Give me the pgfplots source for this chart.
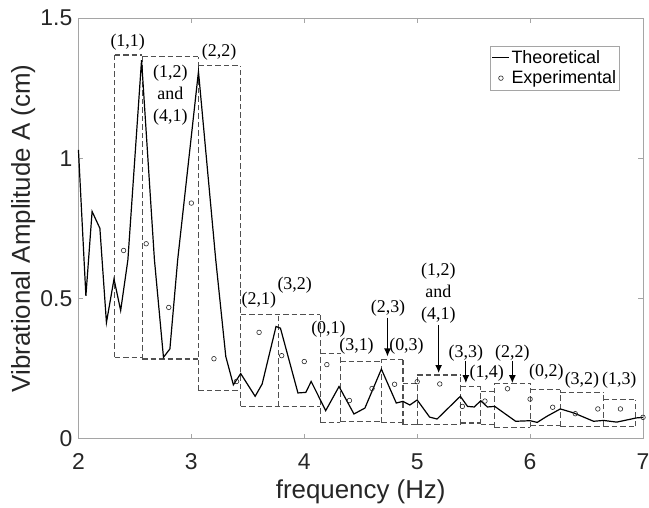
\documentclass[border=0pt]{standalone}
\usepackage{fontspec}
\setmainfont{Liberation Sans}
\newfontfamily\serif{Liberation Serif}
\usepackage{pgfplots}
\pgfplotsset{compat=1.18}
\usetikzlibrary{arrows.meta}
\definecolor{axgray}{RGB}{165,165,165}
\definecolor{txtgray}{RGB}{38,38,38}
\definecolor{boxgray}{RGB}{80,80,80}

\tikzset{
  boxst/.style={boxgray, dash pattern=on 5.5bp off 3bp, line width=1.1bp},
  lab/.style={font=\serif\fontsize{18}{22}\selectfont, inner sep=0pt, align=center},
  arr/.style={-{Latex[length=8bp,width=7bp]}, line width=1.2bp, black}
}

\begin{document}
\begin{tikzpicture}
\begin{axis}[
    scale only axis,
    width=565bp, height=421bp,
    xmin=2, xmax=7, ymin=0, ymax=1.5,
    xtick={2,3,4,5,6,7},
    ytick={0,0.5,1,1.5},
    axis line style={axgray, line width=0.6bp},
    tick style={axgray, line width=0.6bp},
    major tick length=5bp,
    tick align=inside,
    /pgf/number format/assume math mode=true,
    ticklabel style={font=\fontsize{23}{26}\selectfont, text=txtgray},
    xticklabel style={anchor=center, yshift=-23bp},
    yticklabel style={anchor=east, inner sep=0pt, xshift=-6bp},
    xlabel={frequency (Hz)},
    ylabel={Vibrational Amplitude A (cm)},
    label style={font=\fontsize{26}{30}\selectfont, text=txtgray},
    xlabel style={at={(axis description cs:0.5,-0.126)}, anchor=center},
    ylabel style={at={(axis description cs:-0.098,0.5)}, anchor=center},
    clip=false,
    unbounded coords=jump,
    legend style={at={(0.958,0.934)}, anchor=north east, draw=axgray,
        font=\fontsize{18}{20}\selectfont, inner xsep=1.5bp, inner ysep=2bp,
        row sep=1bp, nodes={inner xsep=1.5bp, inner ysep=2.5bp, text=black}, cells={anchor=west}},
]

% dashed mode boxes: shared vertical edges
\addplot[boxst, forget plot] coordinates {
  (2.321,0.291)(2.321,1.368) (nan,nan)
  (2.565,0.284)(2.565,1.368) (nan,nan)
  (3.063,0.171)(3.063,1.362) (nan,nan)
  (3.437,0.115)(3.437,1.330) (nan,nan)
  (3.774,0.115)(3.774,0.444) (nan,nan)
  (4.141,0.058)(4.141,0.444) (nan,nan)
  (4.317,0.058)(4.317,0.305) (nan,nan)
  (4.683,0.058)(4.683,0.281) (nan,nan)
  (4.874,0.050)(4.874,0.281) (nan,nan)
  (5.000,0.050)(5.000,0.227) (nan,nan)
  (5.382,0.050)(5.382,0.227) (nan,nan)
  (5.563,0.052)(5.563,0.186) (nan,nan)
  (5.681,0.040)(5.681,0.198) (nan,nan)
  (6.000,0.040)(6.000,0.198) (nan,nan)
  (6.268,0.044)(6.268,0.175) (nan,nan)
  (6.650,0.044)(6.650,0.163) (nan,nan)
  (6.937,0.044)(6.937,0.139)
};
% tops and bottoms
\addplot[boxst, forget plot] coordinates {
  (2.321,1.368)(2.565,1.368) (nan,nan) (2.321,0.291)(2.565,0.291) (nan,nan)
  (2.565,1.362)(3.063,1.362) (nan,nan) (2.565,0.284)(3.063,0.284) (nan,nan)
  (3.063,1.330)(3.437,1.330) (nan,nan) (3.063,0.171)(3.437,0.171) (nan,nan)
  (3.437,0.444)(4.141,0.444) (nan,nan) (3.437,0.115)(4.141,0.115) (nan,nan)
  (4.141,0.305)(4.317,0.305) (nan,nan) (4.141,0.058)(4.317,0.058) (nan,nan)
  (4.317,0.275)(4.683,0.275) (nan,nan) (4.317,0.062)(4.683,0.062) (nan,nan)
  (4.683,0.281)(4.874,0.281) (nan,nan) (4.683,0.058)(4.874,0.058) (nan,nan)
  (4.874,0.198)(5.000,0.198) (nan,nan) (4.874,0.050)(5.000,0.050) (nan,nan)
  (5.000,0.227)(5.382,0.227) (nan,nan) (5.000,0.050)(5.382,0.050) (nan,nan)
  (5.382,0.186)(5.563,0.186) (nan,nan) (5.382,0.056)(5.563,0.056) (nan,nan)
  (5.563,0.168)(5.681,0.168) (nan,nan) (5.563,0.052)(5.681,0.052) (nan,nan)
  (5.681,0.198)(6.000,0.198) (nan,nan) (5.681,0.040)(6.000,0.040) (nan,nan)
  (6.000,0.175)(6.268,0.175) (nan,nan) (6.000,0.047)(6.268,0.047) (nan,nan)
  (6.268,0.163)(6.650,0.163) (nan,nan) (6.268,0.044)(6.650,0.044) (nan,nan)
  (6.650,0.139)(6.937,0.139) (nan,nan) (6.650,0.044)(6.937,0.044)
};

% theoretical response
\addplot[black, line width=1.2bp] coordinates {
  (2.000,1.030) (2.066,0.509) (2.121,0.810) (2.190,0.750) (2.248,0.414)
  (2.315,0.569) (2.374,0.457) (2.438,0.638) (2.559,1.350) (2.673,0.638)
  (2.753,0.290) (2.810,0.320) (2.879,0.638) (3.063,1.309) (3.216,0.638)
  (3.305,0.293) (3.372,0.192) (3.437,0.232) (3.565,0.151) (3.627,0.195)
  (3.750,0.400) (3.789,0.394) (3.944,0.163) (4.014,0.165) (4.061,0.204)
  (4.190,0.100) (4.308,0.186) (4.440,0.088) (4.537,0.109) (4.683,0.248)
  (4.815,0.127) (4.874,0.133) (4.935,0.120) (5.000,0.138) (5.110,0.077)
  (5.176,0.070) (5.382,0.151) (5.446,0.115) (5.505,0.113) (5.563,0.135)
  (5.622,0.113) (5.687,0.115) (5.872,0.062) (6.000,0.064) (6.063,0.058)
  (6.150,0.080) (6.268,0.106) (6.385,0.092) (6.562,0.062) (6.650,0.065)
  (6.767,0.059) (6.943,0.074) (7.000,0.076)
};
\addlegendentry{Theoretical}

% experimental data
\addplot[only marks, mark=o, mark size=2.3bp, txtgray, mark options={line width=0.6bp}] coordinates {
  (2.4,0.671) (2.6,0.695) (2.8,0.468) (3.0,0.840) (3.2,0.285) (3.4,0.204)
  (3.6,0.379) (3.8,0.296) (4.0,0.275) (4.2,0.264) (4.4,0.136) (4.6,0.179)
  (4.8,0.194) (5.0,0.203) (5.2,0.195) (5.4,0.115) (5.6,0.134) (5.8,0.178)
  (6.0,0.141) (6.2,0.112) (6.4,0.089) (6.6,0.106) (6.8,0.106) (7.0,0.076)
};
\addlegendentry{Experimental}

% mode labels
\node[lab] at (2.436,1.414) {(1,1)};
\node[lab] at (2.814,1.225) {(1,2)\\and\\(4,1)};
\node[lab] at (3.246,1.378) {(2,2)};
\node[lab] at (3.598,0.493) {(2,1)};
\node[lab] at (3.915,0.549) {(3,2)};
\node[lab] at (4.214,0.391) {(0,1)};
\node[lab] at (4.463,0.329) {(3,1)};
\node[lab] at (4.742,0.466) {(2,3)};
\node[lab] at (4.905,0.331) {(0,3)};
\node[lab] at (5.188,0.519) {(1,2)\\and\\(4,1)};
\node[lab] at (5.431,0.303) {(3,3)};
\node[lab] at (5.616,0.234) {(1,4)};
\node[lab] at (5.843,0.303) {(2,2)};
\node[lab] at (6.144,0.236) {(0,2)};
\node[lab] at (6.459,0.210) {(3,2)};
\node[lab] at (6.790,0.210) {(1,3)};

% arrows
\draw[arr] (4.737,0.432) -- (4.737,0.293);
\draw[arr] (5.190,0.406) -- (5.190,0.234);
\draw[arr] (5.431,0.276) -- (5.431,0.198);
\draw[arr] (5.843,0.276) -- (5.843,0.198);
\end{axis}
\pgfresetboundingbox
\path ([shift={(-78.5bp,-69bp)}]current axis.south west) rectangle ([shift={(6bp,18bp)}]current axis.north east);
\end{tikzpicture}
\end{document}
